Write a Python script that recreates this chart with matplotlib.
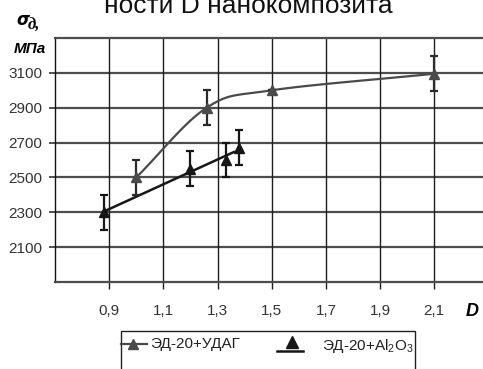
import numpy as np
import matplotlib
matplotlib.use("Agg")
import matplotlib.pyplot as plt
from matplotlib.lines import Line2D
from matplotlib.patches import Rectangle

# ---- data ----
udag_x = [1.00, 1.26, 1.50, 2.10]
udag_y = [2500, 2900, 3000, 3095]
udag_err = [100, 100, 0, 100]

al_x = [0.88, 1.20, 1.33, 1.38]
al_y = [2300, 2550, 2600, 2670]
al_err = [100, 100, 100, 100]

x_ticks = [0.9, 1.1, 1.3, 1.5, 1.7, 1.9, 2.1]
x_ticklabels = ["0,9", "1,1", "1,3", "1,5", "1,7", "1,9", "2,1"]
y_ticks = [2100, 2300, 2500, 2700, 2900, 3100]
y_ticklabels = ["2100", "2300", "2500", "2700", "2900", "3100"]

label_udag = "ЭД-20+УДАГ"
label_al = "ЭД-20+Al$_\\mathregular{2}$O$_\\mathregular{3}$"
title_text = "ности D нанокомпозита"

plt.rcParams["font.family"] = ["Liberation Sans", "DejaVu Sans"]

W, H = 483, 369
fig = plt.figure(figsize=(W / 100, H / 100), dpi=100)

def fx(px):
    return px / W

def fy(py):
    return 1 - py / H

ax = fig.add_axes([fx(55), fy(282), fx(428), (282 - 38) / H])
ax.set_xlim(0.7, 0.7 + 428 / 270.9)
ax.set_ylim(1900, 3300)

# grid
for yv in y_ticks:
    ax.axhline(yv, color="#4d4d4d", lw=1.6, zorder=1)
for xv in x_ticks:
    ax.axvline(xv, color="#1e1e1e", lw=1.0, zorder=1)

ax.spines["right"].set_visible(False)
ax.spines["top"].set_color("#4d4d4d")
ax.spines["top"].set_linewidth(1.6)
ax.spines["bottom"].set_color("#4d4d4d")
ax.spines["bottom"].set_linewidth(1.6)
ax.spines["left"].set_color("#111111")
ax.spines["left"].set_linewidth(1.0)

ax.set_xticks(x_ticks)
ax.set_xticklabels(x_ticklabels)
ax.set_yticks(y_ticks)
ax.set_yticklabels(y_ticklabels)
ax.tick_params(axis="x", length=5, width=1.0, color="#1e1e1e", pad=11,
               labelsize=11, labelcolor="#333333")
ax.tick_params(axis="y", length=4, width=1.2, color="#333333", pad=5,
               labelsize=11, labelcolor="#333333")

# smooth curve (Catmull-Rom) through UDAG points
def catmull_rom(xs, ys, n=40):
    P = np.column_stack([xs, ys]).astype(float)
    P = np.vstack([P[0] - (P[1] - P[0]), P, P[-1] + (P[-1] - P[-2])])
    out = []
    t = np.linspace(0, 1, n)
    for i in range(1, len(P) - 2):
        p0, p1, p2, p3 = P[i - 1], P[i], P[i + 1], P[i + 2]
        m1 = (p2 - p0) / 2
        m2 = (p3 - p1) / 2
        h00 = 2 * t**3 - 3 * t**2 + 1
        h10 = t**3 - 2 * t**2 + t
        h01 = -2 * t**3 + 3 * t**2
        h11 = t**3 - t**2
        seg = (np.outer(h00, p1) + np.outer(h10, m1) +
               np.outer(h01, p2) + np.outer(h11, m2))
        out.append(seg)
    out = np.vstack(out)
    return out[:, 0], out[:, 1]

sx, sy = catmull_rom(udag_x, udag_y)
gray = "#4a4a4a"
ax.plot(sx, sy, color=gray, lw=1.6, zorder=3, clip_on=False)
ax.errorbar(udag_x, udag_y, yerr=udag_err, fmt="^", color=gray, ms=7,
            ecolor="#2a2a2a", elinewidth=1.6, capsize=3, capthick=1.6,
            zorder=4, clip_on=False)

# linear line for Al2O3
k, b = np.polyfit(al_x, al_y, 1)
lx = np.array([min(al_x), max(al_x) - 0.02])
black = "#161616"
ax.plot(lx, k * lx + b, color=black, lw=1.8, zorder=3)
ax.errorbar(al_x, al_y, yerr=al_err, fmt="^", color=black, ms=7,
            ecolor="#161616", elinewidth=1.6, capsize=3, capthick=1.6,
            zorder=4, clip_on=False)

# axis labels
fig.text(fx(16), fy(25), "σ", fontsize=12, fontweight="bold", style="italic",
         family=["DejaVu Sans"], ha="left", va="baseline")
fig.text(fx(28), fy(30), "д,", fontsize=12, fontweight="bold", style="italic",
         family=["Liberation Serif", "DejaVu Serif"], ha="left", va="baseline")
fig.text(fx(14), fy(53), "МПа", fontsize=11, fontweight="bold", style="italic",
         family=["Liberation Sans", "DejaVu Sans"], ha="left", va="baseline")
fig.text(fx(466), fy(316), "D", fontsize=13, fontweight="bold", style="italic",
         family=["Liberation Sans", "DejaVu Sans"], ha="left", va="baseline")

# title fragment (cut off at the top, as in the source)
fig.text(fx(248), fy(13), title_text, fontsize=19, ha="center", va="baseline",
         color="#111111")

# legend (manual)
fig.add_artist(Rectangle((fx(121), fy(400)), fx(415 - 121), (400 - 331) / H,
                         transform=fig.transFigure, fill=False,
                         edgecolor="#222222", lw=1.0))
fig.add_artist(Line2D([fx(121), fx(147)], [fy(344), fy(344)], color=gray,
                      lw=1.6, transform=fig.transFigure))
fig.add_artist(Line2D([fx(133)], [fy(344)], marker="^", ms=7, color=gray,
                      transform=fig.transFigure))
fig.text(fx(150), fy(344), label_udag, fontsize=11, ha="left", va="center",
         color="#222222")
fig.add_artist(Line2D([fx(277), fx(303)], [fy(351), fy(351)], color=black,
                      lw=1.8, transform=fig.transFigure))
fig.add_artist(Line2D([fx(292)], [fy(342)], marker="^", ms=8, color=black,
                      transform=fig.transFigure))
fig.text(fx(322), fy(346), label_al, fontsize=11, ha="left", va="center",
         color="#222222")

fig.savefig("out.png", dpi=100)
